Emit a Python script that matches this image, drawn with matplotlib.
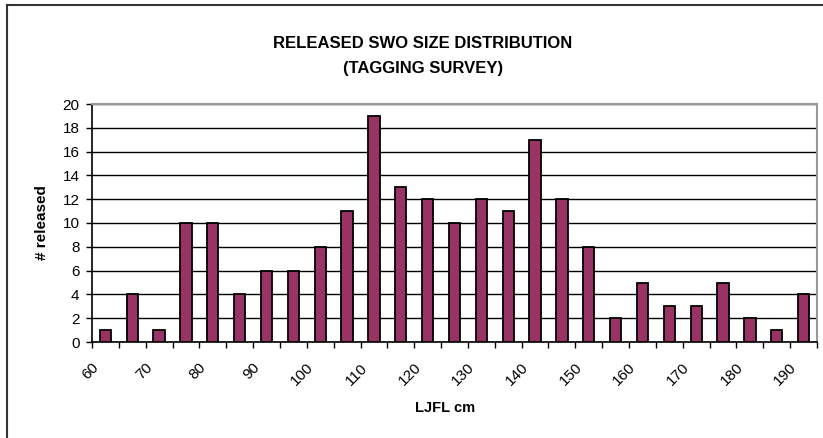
import numpy as np
import matplotlib.pyplot as plt
import matplotlib.transforms as mtransforms
from matplotlib.lines import Line2D

plt.rcParams['font.family'] = ['Liberation Sans', 'DejaVu Sans']

# size classes (LJFL, cm) and number of fish released in each
lengths = [60, 65, 70, 75, 80, 85, 90, 95, 100, 105, 110, 115, 120, 125,
           130, 135, 140, 145, 150, 155, 160, 165, 170, 175, 180, 185, 190]
released = [1, 4, 1, 10, 10, 4, 6, 6, 8, 11, 19, 13, 12, 10,
            12, 11, 17, 12, 8, 2, 5, 3, 3, 5, 2, 1, 4]
yticks = list(range(0, 21, 2))

fig = plt.figure(figsize=(8.23, 4.38), dpi=100)
ax = fig.add_axes([92 / 823, 1 - 342 / 438, (817 - 92) / 823, (342 - 104) / 438])

x = np.arange(len(lengths))
ax.bar(x, released, width=0.42, color='#993366', edgecolor='black',
       linewidth=1.3, zorder=3)

ax.set_xlim(-0.5, len(lengths) - 0.5)
ax.set_ylim(0, 20)

# tick marks sit between the classes, labels on every other class
ax.set_xticks(np.arange(-0.5, len(lengths), 1.0))
ax.set_xticklabels([])
ax.tick_params(axis='x', which='major', length=4, width=1, direction='out')
ax.set_xticks(x[::2], minor=True)
ax.set_xticklabels([str(v) for v in lengths[::2]], minor=True,
                   rotation=45, ha='right', va='center',
                   rotation_mode='anchor', fontsize=11)
ax.tick_params(axis='x', which='minor', length=0, pad=17)
shift = mtransforms.ScaledTranslation(-0.09, 0, fig.dpi_scale_trans)
for lab in ax.get_xticklabels(minor=True):
    lab.set_transform(lab.get_transform() + shift)

ax.set_yticks(yticks)
ax.set_yticklabels([str(v) for v in yticks], fontsize=11)
ax.tick_params(axis='y', length=4, width=1, direction='out', pad=5)

ax.grid(axis='y', color='black', linewidth=1, zorder=0)
for side in ('left', 'bottom'):
    ax.spines[side].set_color('black')
    ax.spines[side].set_linewidth(1.2)
for side in ('top', 'right'):
    ax.spines[side].set_color('#999999')
    ax.spines[side].set_linewidth(1.5)

ax.set_ylabel('# released', fontsize=11, fontweight='bold', labelpad=10)
fig.text(445 / 823, 1 - 408 / 438, 'LJFL cm', ha='center', va='center',
         fontsize=10.5, fontweight='bold')

fig.text(423 / 823, 1 - 44 / 438, 'RELEASED SWO SIZE DISTRIBUTION',
         ha='center', va='center', fontsize=12, fontweight='bold')
fig.text(423 / 823, 1 - 68 / 438, '(TAGGING SURVEY)',
         ha='center', va='center', fontsize=12, fontweight='bold')

# outer chart frame (left and top edges)
fig.add_artist(Line2D([7 / 823, 7 / 823], [0, 1 - 5 / 438],
                      transform=fig.transFigure, color='#333333', linewidth=1.5))
fig.add_artist(Line2D([7 / 823, 1], [1 - 5 / 438, 1 - 5 / 438],
                      transform=fig.transFigure, color='#333333', linewidth=1.5))

fig.savefig('out.png', dpi=100)
